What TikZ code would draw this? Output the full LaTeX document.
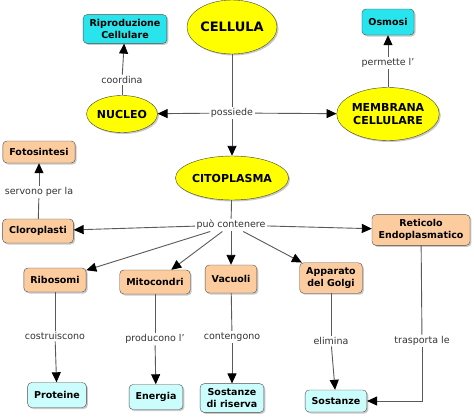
\documentclass[tikz,border=0pt]{standalone}
\usepackage{fontspec}
\setmainfont{DejaVu Sans}
\usepackage{xcolor}
\usetikzlibrary{arrows.meta,shapes,shadows}

\definecolor{giallo}{RGB}{255,255,0}
\definecolor{ciano}{RGB}{40,228,236}
\definecolor{cianochiaro}{RGB}{204,253,253}
\definecolor{pesca}{RGB}{252,204,158}

\tikzset{
	ombra/.style={drop shadow={shadow xshift=1.5pt,shadow yshift=-1.5pt,fill=black!35,opacity=.6}},
	concetto/.style={ellipse,draw=black!75,fill=giallo,inner sep=0pt,align=center,
		font=\bfseries\fontsize{11}{13}\selectfont,ombra},
	scatola/.style={rectangle,rounded corners=4pt,draw=black!70,inner xsep=6.5pt,inner ysep=5pt,
		minimum height=24pt,align=center,font=\bfseries\fontsize{9.5}{11.5}\selectfont,ombra},
	azzurro/.style={scatola,fill=ciano},
	chiaro/.style={scatola,fill=cianochiaro},
	arancio/.style={scatola,fill=pesca},
	legame/.style={fill=white,inner sep=1.5pt,text=black!80,font=\fontsize{9.5}{11}\selectfont},
}

\begin{document}
\begin{tikzpicture}[x=1pt,y=-1pt]
			\useasboundingbox (0,0) rectangle (474,416);
			\fill[white] (0,0) rectangle (474,416);
			\node[concetto,minimum width=90pt,minimum height=54pt,font=\bfseries\fontsize{13}{15}\selectfont] (Cel) at (232,27) {CELLULA};
			\node[concetto,minimum width=70pt,minimum height=37pt] (Nuc) at (122,114) {NUCLEO};
			\node[concetto,minimum width=97pt,minimum height=53pt] (Mem) at (388,114) {MEMBRANA\\CELLULARE};
			\node[concetto,minimum width=100pt,minimum height=44pt] (Cit) at (232,178) {CITOPLASMA};
			\node[azzurro] (Rip) at (125,29) {Riproduzione\\Cellulare};
			\node[azzurro,minimum height=26pt] (Osm) at (388,22) {Osmosi};
			\node[arancio,minimum height=22pt] (Fot) at (39,152) {Fotosintesi};
			\node[arancio] (Clo) at (38,231) {Cloroplasti};
			\node[arancio] (Rib) at (55,280) {Ribosomi};
			\node[arancio] (Mit) at (155,282) {Mitocondri};
			\node[arancio,minimum height=28pt] (Vac) at (231,279) {Vacuoli};
			\node[arancio] (Gol) at (331,278) {Apparato\\del Golgi};
			\node[arancio] (Ret) at (421,230) {Reticolo\\Endoplasmatico};
			\node[chiaro,minimum height=25pt] (Pro) at (57,395) {Proteine};
			\node[chiaro,minimum height=25pt] (Ene) at (156,397) {Energia};
			\node[chiaro] (Ris) at (232,398) {Sostanze\\di riserva};
			\node[chiaro,minimum height=22pt] (Sos) at (336,401) {Sostanze};
			%
			\node[legame] (pos) at (232,113) {possiede};
			\node[legame] (coo) at (122,80) {coordina};
			\node[legame] (per) at (388,63) {permette l'};
			\node[legame] (puo) at (231,225) {può contenere};
			\node[legame] (ser) at (39,192) {servono per la};
			\node[legame] (cos) at (55,336) {costruiscono};
			\node[legame] (pro) at (155,339) {producono l'};
			\node[legame] (con) at (232,337) {contengono};
			\node[legame] (eli) at (331,341) {elimina};
			\node[legame] (tra) at (422,341) {trasporta le};
			%
			\path[draw=black!65,line width=.9pt]
				(Cel) edge (pos)
				(Nuc) edge (coo)
				(Mem) edge (per)
				(Cit) edge (puo)
				(Clo) edge (ser)
				(Rib) edge (cos)
				(Mit) edge (pro)
				(Vac) edge (con)
				(Gol) edge (eli)
				(Ret) edge (tra);
			\path[draw=black!65,line width=.9pt,-{Triangle[length=10pt,width=9pt,black]}]
				(pos) edge (Nuc)
				(pos) edge (Mem)
				(pos) edge (Cit)
				(coo) edge (Rip)
				(per) edge (Osm)
				(ser) edge (Fot)
				(puo) edge (Clo)
				(puo) edge (Rib)
				(puo) edge (Mit)
				(puo) edge (Vac)
				(puo) edge (Gol)
				(puo) edge (Ret)
				(cos) edge (Pro)
				(pro) edge (Ene)
				(con) edge (Ris)
				(eli) edge (Sos)
				(tra) edge[to path={|- (\tikztotarget)}] (Sos);
		\end{tikzpicture}
\end{document}
